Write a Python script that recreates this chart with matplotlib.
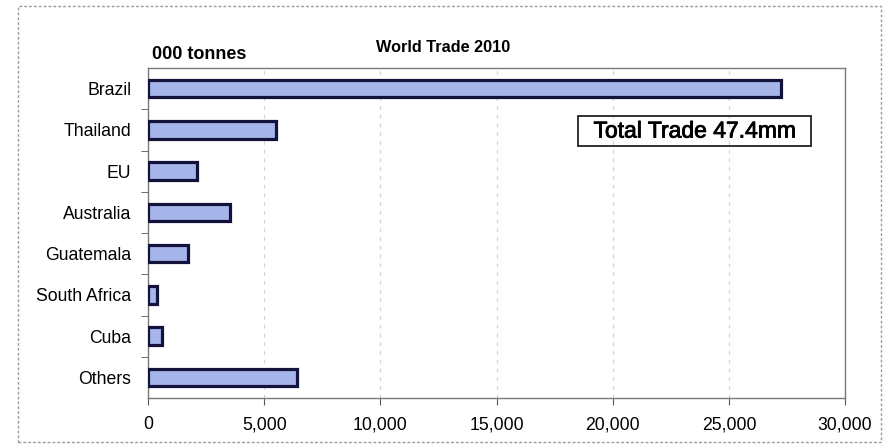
import matplotlib.pyplot as plt
import matplotlib.patheffects as pe
from matplotlib.patches import Rectangle

countries = ["Brazil", "Thailand", "EU", "Australia", "Guatemala",
             "South Africa", "Cuba", "Others"]
trade = [27250, 5500, 2100, 3530, 1720, 390, 600, 6400]  # 000 tonnes
x_ticks = [0, 5000, 10000, 15000, 20000, 25000, 30000]

plt.rcParams['font.family'] = ['Liberation Sans', 'DejaVu Sans']

fig = plt.figure(figsize=(8.87, 4.46), dpi=100)
ax = fig.add_axes([0.1669, 0.1076, 0.7858, 0.7399])

pos = list(range(len(countries)))
ax.barh(pos, trade, height=0.42, color='#a6b5ea', edgecolor='#12123a',
        linewidth=2.3, zorder=3)

ax.set_xlim(0, 30000)
ax.set_ylim(len(countries) - 0.5, -0.5)
ax.set_xticks(x_ticks)
ax.set_xticklabels([f"{v:,}" for v in x_ticks], fontsize=12.7)
ax.set_yticks(pos)
ax.set_yticklabels(countries, fontsize=12.7)
ax.set_yticks([p + 0.5 for p in pos[:-1]], minor=True)
ax.tick_params(axis='y', which='major', length=0, pad=12)
ax.tick_params(axis='y', which='minor', length=5, color='#555555')
ax.tick_params(axis='x', length=5, color='#555555', pad=8)

ax.grid(axis='x', color='#d4d4d4', linestyle=(0, (3, 4)), linewidth=0.9, zorder=0)
for s in ax.spines.values():
    s.set_color('#7a7a7a')
    s.set_linewidth(1)

# callout with the total
ax.add_patch(Rectangle((0.617, 0.764), 0.334, 0.091, transform=ax.transAxes,
                       fill=False, edgecolor='#222222', linewidth=1.3, zorder=4))
ax.text(0.784, 0.809, "Total Trade 47.4mm", transform=ax.transAxes,
        ha='center', va='center', fontsize=16.5, zorder=5,
        path_effects=[pe.withStroke(linewidth=0.6, foreground='black')])

fig.text(0.5, 0.893, "World Trade 2010", ha='center', va='center',
         fontsize=11.7, fontweight='bold')
fig.text(0.171, 0.877, "000 tonnes", ha='left', va='center',
         fontsize=13, fontweight='bold')

# dashed outer border of the chart area
fig.patches.append(Rectangle((0.0203, 0.009), 0.973, 0.9776, transform=fig.transFigure,
                             fill=False, edgecolor='#9a9a9a', linewidth=1,
                             linestyle=(0, (2, 1.5))))

fig.savefig("out.png", dpi=100)
